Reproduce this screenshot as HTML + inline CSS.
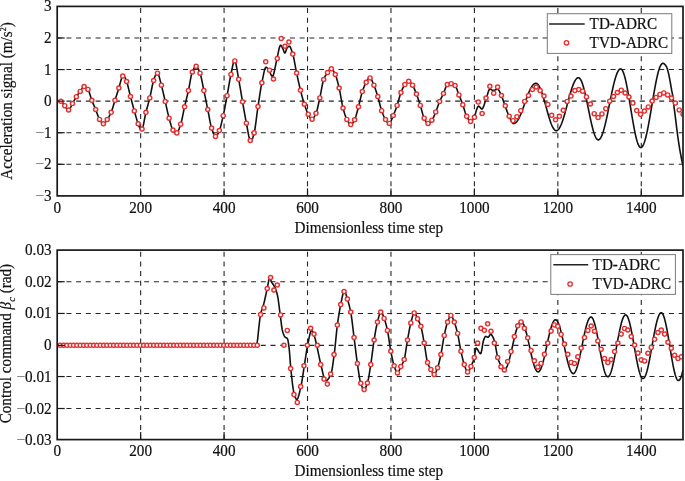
<!DOCTYPE html>
<html><head><meta charset="utf-8"><style>
html,body{margin:0;padding:0;background:#fff;}
svg{display:block;will-change:transform;}
.g{stroke:#262626;stroke-width:1.1;stroke-dasharray:5 4.718;stroke-dashoffset:0.5;fill:none;}
.gv{stroke:#262626;stroke-width:1.1;stroke-dasharray:5 4.62;fill:none;}
.t{stroke:#1a1a1a;stroke-width:1.2;}
.box{fill:none;stroke:#1a1a1a;stroke-width:1.7;}
text{font-family:"Liberation Serif",serif;font-size:15.2px;fill:#111;stroke:#111;stroke-width:0.2px;}
</style></head><body>
<svg width="685" height="481" viewBox="0 0 685 481">
<rect width="685" height="481" fill="#fff"/>
<defs>
<clipPath id="c1"><rect x="57.2" y="6.4" width="625.8" height="189.5"/></clipPath>
<clipPath id="c2"><rect x="57.2" y="250.1" width="625.8" height="189.50000000000003"/></clipPath>
<clipPath id="c1m"><rect x="50" y="0" width="632.2" height="240"/></clipPath>
<clipPath id="c2m"><rect x="50" y="240" width="632.2" height="240"/></clipPath>
</defs>
<line x1="57.20" y1="37.98" x2="683.00" y2="37.98" class="g"/>
<line x1="57.20" y1="69.57" x2="683.00" y2="69.57" class="g"/>
<line x1="57.20" y1="101.15" x2="683.00" y2="101.15" class="g"/>
<line x1="57.20" y1="132.73" x2="683.00" y2="132.73" class="g"/>
<line x1="57.20" y1="164.32" x2="683.00" y2="164.32" class="g"/>
<line x1="140.64" y1="195.90" x2="140.64" y2="6.40" class="gv"/>
<line x1="224.08" y1="195.90" x2="224.08" y2="6.40" class="gv"/>
<line x1="307.52" y1="195.90" x2="307.52" y2="6.40" class="gv"/>
<line x1="390.96" y1="195.90" x2="390.96" y2="6.40" class="gv"/>
<line x1="474.40" y1="195.90" x2="474.40" y2="6.40" class="gv"/>
<line x1="557.84" y1="195.90" x2="557.84" y2="6.40" class="gv"/>
<line x1="641.28" y1="195.90" x2="641.28" y2="6.40" class="gv"/>
<line x1="57.20" y1="281.70" x2="683.00" y2="281.70" class="g"/>
<line x1="57.20" y1="313.45" x2="683.00" y2="313.45" class="g"/>
<line x1="57.20" y1="345.40" x2="683.00" y2="345.40" class="g"/>
<line x1="57.20" y1="376.55" x2="683.00" y2="376.55" class="g"/>
<line x1="57.20" y1="408.50" x2="683.00" y2="408.50" class="g"/>
<line x1="140.64" y1="439.60" x2="140.64" y2="250.10" class="gv"/>
<line x1="224.08" y1="439.60" x2="224.08" y2="250.10" class="gv"/>
<line x1="307.52" y1="439.60" x2="307.52" y2="250.10" class="gv"/>
<line x1="390.96" y1="439.60" x2="390.96" y2="250.10" class="gv"/>
<line x1="474.40" y1="439.60" x2="474.40" y2="250.10" class="gv"/>
<line x1="557.84" y1="439.60" x2="557.84" y2="250.10" class="gv"/>
<line x1="641.28" y1="439.60" x2="641.28" y2="250.10" class="gv"/>
<g clip-path="url(#c1)"><path d="M57.20,101.15 57.70,101.15 58.20,101.15 58.70,101.16 59.20,101.16 59.70,101.17 60.20,101.18 60.70,101.19 61.20,101.26 61.70,101.55 62.20,102.05 62.70,102.69 63.20,103.43 63.70,104.20 64.20,104.95 64.70,105.62 65.20,106.29 65.70,107.08 66.20,107.91 66.70,108.70 67.20,109.37 67.70,109.85 68.20,110.05 68.70,109.98 69.20,109.66 69.70,109.05 70.20,108.23 70.70,107.25 71.20,106.20 71.70,105.13 72.20,104.13 72.70,103.24 73.20,102.35 73.70,101.42 74.20,100.49 74.70,99.56 75.20,98.65 75.70,97.78 76.20,96.95 76.70,96.18 77.20,95.44 77.70,94.74 78.20,94.05 78.70,93.38 79.20,92.73 79.70,92.08 80.20,91.43 80.70,90.73 81.20,89.96 81.70,89.16 82.20,88.40 82.70,87.71 83.20,87.14 83.70,86.75 84.20,86.58 84.70,86.54 85.20,86.66 85.70,86.95 86.20,87.35 86.70,87.86 87.20,88.45 87.70,89.08 88.20,89.77 88.70,90.80 89.20,92.11 89.70,93.64 90.20,95.27 90.70,96.94 91.20,98.54 91.70,99.99 92.20,101.27 92.70,102.50 93.20,103.68 93.70,104.84 94.20,106.00 94.70,107.16 95.20,108.33 95.70,109.55 96.20,110.85 96.70,112.25 97.20,113.70 97.70,115.13 98.20,116.49 98.70,117.73 99.20,118.80 99.70,119.65 100.20,120.45 100.70,121.24 101.20,121.98 101.70,122.64 102.20,123.19 102.70,123.58 103.20,123.78 103.70,123.76 104.20,123.52 104.70,123.10 105.20,122.54 105.70,121.89 106.20,121.17 106.70,120.42 107.20,119.70 107.70,118.99 108.20,118.20 108.70,117.35 109.20,116.43 109.70,115.45 110.20,114.41 110.70,113.31 111.20,112.15 111.70,110.87 112.20,109.43 112.70,107.89 113.20,106.26 113.70,104.59 114.20,102.91 114.70,101.27 115.20,99.68 115.70,98.09 116.20,96.50 116.70,94.90 117.20,93.30 117.70,91.70 118.20,90.10 118.70,88.53 119.20,86.90 119.70,85.07 120.20,83.13 120.70,81.21 121.20,79.43 121.70,77.91 122.20,76.77 122.70,76.12 123.20,75.85 123.70,75.85 124.20,76.27 124.70,77.04 125.20,78.06 125.70,79.25 126.20,80.51 126.70,81.76 127.20,83.23 127.70,84.99 128.20,86.97 128.70,89.08 129.20,91.25 129.70,93.41 130.20,95.48 130.70,97.41 131.20,99.31 131.70,101.22 132.20,103.11 132.70,104.98 133.20,106.84 133.70,108.67 134.20,110.46 134.70,112.23 135.20,114.03 135.70,115.84 136.20,117.61 136.70,119.33 137.20,120.96 137.70,122.46 138.20,123.83 138.70,125.19 139.20,126.61 139.70,127.94 140.20,129.02 140.70,129.70 141.20,129.82 141.70,129.48 142.20,128.90 142.70,127.71 143.20,125.87 143.70,123.57 144.20,120.97 144.70,118.26 145.20,115.62 145.70,113.22 146.20,111.19 146.70,109.29 147.20,107.46 147.70,105.67 148.20,103.88 148.70,102.07 149.20,100.20 149.70,98.24 150.20,96.10 150.70,93.74 151.20,91.25 151.70,88.72 152.20,86.27 152.70,83.99 153.20,81.99 153.70,80.35 154.20,78.84 154.70,77.33 155.20,75.92 155.70,74.69 156.20,73.74 156.70,73.18 157.20,73.08 157.70,73.33 158.20,74.06 158.70,75.26 159.20,76.82 159.70,78.64 160.20,80.61 160.70,82.62 161.20,84.55 161.70,86.39 162.20,88.35 162.70,90.43 163.20,92.59 163.70,94.80 164.20,97.03 164.70,99.25 165.20,101.42 165.70,103.59 166.20,105.83 166.70,108.09 167.20,110.35 167.70,112.56 168.20,114.68 168.70,116.69 169.20,118.54 169.70,120.36 170.20,122.18 170.70,123.96 171.20,125.64 171.70,127.18 172.20,128.52 172.70,129.62 173.20,130.47 173.70,131.26 174.20,131.99 174.70,132.60 175.20,133.05 175.70,133.27 176.20,133.21 176.70,132.98 177.20,132.60 177.70,131.94 178.20,131.02 178.70,129.89 179.20,128.59 179.70,127.18 180.20,125.70 180.70,124.20 181.20,122.51 181.70,120.49 182.20,118.23 182.70,115.81 183.20,113.32 183.70,110.83 184.20,108.44 184.70,106.21 185.20,104.09 185.70,102.02 186.20,99.98 186.70,97.93 187.20,95.88 187.70,93.78 188.20,91.61 188.70,89.33 189.20,86.75 189.70,83.98 190.20,81.16 190.70,78.43 191.20,75.94 191.70,73.83 192.20,72.23 192.70,71.05 193.20,69.93 193.70,68.88 194.20,67.95 194.70,67.19 195.20,66.64 195.70,66.33 196.20,66.31 196.70,66.55 197.20,67.08 197.70,67.84 198.20,68.80 198.70,69.90 199.20,71.11 199.70,72.38 200.20,73.68 200.70,75.34 201.20,77.35 201.70,79.63 202.20,82.10 202.70,84.66 203.20,87.23 203.70,89.71 204.20,92.08 204.70,94.48 205.20,96.92 205.70,99.38 206.20,101.86 206.70,104.34 207.20,106.81 207.70,109.25 208.20,111.76 208.70,114.41 209.20,117.12 209.70,119.80 210.20,122.35 210.70,124.68 211.20,126.71 211.70,128.35 212.20,129.85 212.70,131.31 213.20,132.69 213.70,133.93 214.20,134.98 214.70,135.78 215.20,136.28 215.70,136.44 216.20,136.34 216.70,135.90 217.20,135.18 217.70,134.26 218.20,133.18 218.70,132.02 219.20,130.84 219.70,129.60 220.20,128.09 220.70,126.35 221.20,124.41 221.70,122.34 222.20,120.17 222.70,117.96 223.20,115.74 223.70,113.46 224.20,111.03 224.70,108.48 225.20,105.84 225.70,103.14 226.20,100.42 226.70,97.71 227.20,95.02 227.70,92.24 228.20,89.35 228.70,86.43 229.20,83.52 229.70,80.69 230.20,78.00 230.70,75.50 231.20,73.18 231.70,70.69 232.20,68.13 232.70,65.70 233.20,63.57 233.70,61.94 234.20,60.98 234.70,60.85 235.20,61.40 235.70,62.83 236.20,64.96 236.70,67.60 237.20,70.57 237.70,73.66 238.20,76.69 238.70,79.47 239.20,82.18 239.70,85.02 240.20,87.95 240.70,90.94 241.20,93.96 241.70,96.95 242.20,99.90 242.70,102.76 243.20,105.62 243.70,108.49 244.20,111.35 244.70,114.18 245.20,116.95 245.70,119.63 246.20,122.22 246.70,124.76 247.20,127.51 247.70,130.34 248.20,133.11 248.70,135.65 249.20,137.83 249.70,139.47 250.20,140.44 250.70,140.87 251.20,140.93 251.70,140.40 252.20,139.38 252.70,137.98 253.20,136.30 253.70,134.48 254.20,132.61 254.70,130.26 255.20,127.25 255.70,123.77 256.20,119.99 256.70,116.07 257.20,112.20 257.70,108.55 258.20,105.23 258.70,101.92 259.20,98.59 259.70,95.28 260.20,92.06 260.70,89.00 261.20,86.13 261.70,83.54 262.20,81.13 262.70,78.61 263.20,76.06 263.70,73.61 264.20,71.40 264.70,69.53 265.20,68.13 265.70,67.34 266.20,67.23 266.70,67.49 267.20,67.98 267.70,68.61 268.20,69.28 268.70,69.93 269.20,70.75 269.70,71.78 270.20,72.91 270.70,74.03 271.20,75.05 271.70,75.84 272.20,76.32 272.70,76.33 273.20,75.55 273.70,74.07 274.20,72.06 274.70,69.69 275.20,67.13 275.70,64.57 276.20,62.18 276.70,60.11 277.20,57.90 277.70,55.44 278.20,52.90 278.70,50.45 279.20,48.28 279.70,46.57 280.20,45.49 280.70,45.21 281.20,45.61 281.70,46.41 282.20,47.41 282.70,48.42 283.20,49.50 283.70,50.90 284.20,52.21 284.70,53.02 285.20,52.86 285.70,51.67 286.20,50.02 286.70,48.55 287.20,47.76 287.70,47.20 288.20,46.71 288.70,46.37 289.20,46.20 289.70,46.36 290.20,46.98 290.70,47.98 291.20,49.26 291.70,50.73 292.20,52.30 292.70,53.88 293.20,55.60 293.70,57.74 294.20,60.18 294.70,62.82 295.20,65.57 295.70,68.32 296.20,70.97 296.70,73.41 297.20,75.74 297.70,78.07 298.20,80.37 298.70,82.63 299.20,84.85 299.70,87.01 300.20,89.09 300.70,91.10 301.20,93.06 301.70,94.99 302.20,96.87 302.70,98.69 303.20,100.44 303.70,102.12 304.20,103.70 304.70,105.21 305.20,106.70 305.70,108.15 306.20,109.54 306.70,110.86 307.20,112.08 307.70,113.18 308.20,114.15 308.70,115.06 309.20,115.99 309.70,116.89 310.20,117.71 310.70,118.40 311.20,118.90 311.70,119.18 312.20,119.18 312.70,118.95 313.20,118.47 313.70,117.80 314.20,116.97 314.70,116.01 315.20,114.96 315.70,113.87 316.20,112.72 316.70,111.24 317.20,109.46 317.70,107.44 318.20,105.26 318.70,102.98 319.20,100.68 319.70,98.43 320.20,96.16 320.70,93.60 321.20,90.89 321.70,88.15 322.20,85.51 322.70,83.09 323.20,81.03 323.70,79.46 324.20,78.24 324.70,77.16 325.20,76.19 325.70,75.32 326.20,74.52 326.70,73.78 327.20,73.08 327.70,72.39 328.20,71.66 328.70,70.92 329.20,70.20 329.70,69.58 330.20,69.10 330.70,68.81 331.20,68.76 331.70,68.89 332.20,69.24 332.70,69.79 333.20,70.50 333.70,71.35 334.20,72.29 334.70,73.30 335.20,74.33 335.70,75.47 336.20,76.84 336.70,78.43 337.20,80.19 337.70,82.09 338.20,84.09 338.70,86.15 339.20,88.24 339.70,90.57 340.20,93.20 340.70,96.03 341.20,98.91 341.70,101.75 342.20,104.40 342.70,106.75 343.20,108.71 343.70,110.53 344.20,112.26 344.70,113.88 345.20,115.39 345.70,116.77 346.20,118.00 346.70,119.07 347.20,120.01 347.70,120.95 348.20,121.86 348.70,122.71 349.20,123.44 349.70,124.03 350.20,124.43 350.70,124.60 351.20,124.53 351.70,124.23 352.20,123.74 352.70,123.08 353.20,122.31 353.70,121.45 354.20,120.54 354.70,119.61 355.20,118.46 355.70,117.02 356.20,115.36 356.70,113.55 357.20,111.64 357.70,109.69 358.20,107.78 358.70,105.93 359.20,103.96 359.70,101.87 360.20,99.74 360.70,97.62 361.20,95.58 361.70,93.69 362.20,92.00 362.70,90.51 363.20,89.10 363.70,87.75 364.20,86.48 364.70,85.30 365.20,84.20 365.70,83.19 366.20,82.29 366.70,81.41 367.20,80.50 367.70,79.64 368.20,78.88 368.70,78.28 369.20,77.90 369.70,77.82 370.20,77.95 370.70,78.36 371.20,79.05 371.70,79.96 372.20,81.04 372.70,82.23 373.20,83.46 373.70,84.68 374.20,85.85 374.70,87.11 375.20,88.48 375.70,89.92 376.20,91.43 376.70,92.99 377.20,94.59 377.70,96.21 378.20,97.91 378.70,99.76 379.20,101.72 379.70,103.72 380.20,105.69 380.70,107.58 381.20,109.31 381.70,110.83 382.20,112.22 382.70,113.55 383.20,114.82 383.70,116.01 384.20,117.12 384.70,118.14 385.20,119.07 385.70,119.90 386.20,120.74 386.70,121.59 387.20,122.36 387.70,122.99 388.20,123.42 388.70,123.58 389.20,123.47 389.70,123.20 390.20,122.60 390.70,121.72 391.20,120.64 391.70,119.41 392.20,118.12 392.70,116.83 393.20,115.61 393.70,114.44 394.20,113.24 394.70,111.99 395.20,110.70 395.70,109.37 396.20,108.00 396.70,106.59 397.20,105.14 397.70,103.55 398.20,101.82 398.70,100.01 399.20,98.19 399.70,96.41 400.20,94.74 400.70,93.24 401.20,91.93 401.70,90.70 402.20,89.50 402.70,88.37 403.20,87.32 403.70,86.36 404.20,85.51 404.70,84.78 405.20,84.15 405.70,83.52 406.20,82.92 406.70,82.37 407.20,81.90 407.70,81.55 408.20,81.34 408.70,81.30 409.20,81.42 409.70,81.71 410.20,82.13 410.70,82.67 411.20,83.29 411.70,83.97 412.20,84.68 412.70,85.39 413.20,86.23 413.70,87.23 414.20,88.36 414.70,89.58 415.20,90.86 415.70,92.18 416.20,93.49 416.70,94.79 417.20,96.15 417.70,97.55 418.20,99.00 418.70,100.49 419.20,102.01 419.70,103.54 420.20,105.09 420.70,106.72 421.20,108.50 421.70,110.38 422.20,112.26 422.70,114.07 423.20,115.73 423.70,117.16 424.20,118.27 424.70,119.22 425.20,120.15 425.70,121.01 426.20,121.78 426.70,122.44 427.20,122.95 427.70,123.29 428.20,123.43 428.70,123.44 429.20,123.25 429.70,122.88 430.20,122.38 430.70,121.78 431.20,121.13 431.70,120.45 432.20,119.76 432.70,118.92 433.20,117.94 433.70,116.85 434.20,115.69 434.70,114.48 435.20,113.25 435.70,112.04 436.20,110.80 436.70,109.46 437.20,108.07 437.70,106.64 438.20,105.22 438.70,103.84 439.20,102.53 439.70,101.32 440.20,100.20 440.70,99.14 441.20,98.12 441.70,97.13 442.20,96.15 442.70,95.15 443.20,94.11 443.70,93.01 444.20,91.72 444.70,90.30 445.20,88.86 445.70,87.48 446.20,86.26 446.70,85.30 447.20,84.70 447.70,84.43 448.20,84.20 448.70,84.00 449.20,83.85 449.70,83.73 450.20,83.67 450.70,83.66 451.20,83.70 451.70,83.77 452.20,83.91 452.70,84.09 453.20,84.33 453.70,84.61 454.20,84.94 454.70,85.30 455.20,85.71 455.70,86.39 456.20,87.38 456.70,88.60 457.20,89.98 457.70,91.43 458.20,92.89 458.70,94.28 459.20,95.54 459.70,96.78 460.20,98.02 460.70,99.27 461.20,100.54 461.70,101.84 462.20,103.15 462.70,104.50 463.20,105.94 463.70,107.52 464.20,109.18 464.70,110.86 465.20,112.49 465.70,113.99 466.20,115.30 466.70,116.35 467.20,117.27 467.70,118.18 468.20,119.05 468.70,119.83 469.20,120.49 469.70,121.00 470.20,121.31 470.70,121.41 471.20,121.33 471.70,121.05 472.20,120.61 472.70,120.03 473.20,119.32 473.70,118.53 474.20,117.66 474.70,116.57 475.20,114.72 475.70,112.60 476.20,110.78 476.70,109.42 477.20,108.08 477.70,106.94 478.20,106.23 478.70,106.13 479.20,106.42 479.70,106.93 480.20,107.55 480.70,108.17 481.20,108.68 481.70,108.97 482.20,108.90 482.70,108.34 483.20,107.38 483.70,106.11 484.20,104.65 484.70,103.10 485.20,101.55 485.70,100.12 486.20,98.79 486.70,97.22 487.20,95.49 487.70,93.74 488.20,92.08 488.70,90.66 489.20,89.61 489.70,89.05 490.20,89.04 490.70,89.23 491.20,89.53 491.70,89.87 492.20,90.17 492.70,90.36 493.20,90.39 493.70,90.33 494.20,90.21 494.70,90.06 495.20,89.89 495.70,89.71 496.20,89.54 496.70,89.41 497.20,89.32 497.70,89.31 498.20,89.55 498.70,90.11 499.20,90.90 499.70,91.86 500.20,92.94 500.70,94.06 501.20,95.17 501.70,96.26 502.20,97.51 502.70,98.90 503.20,100.38 503.70,101.90 504.20,103.41 504.70,104.87 505.20,106.24 505.70,107.61 506.20,109.00 506.70,110.37 507.20,111.72 507.70,113.01 508.20,114.24 508.70,115.37 509.20,116.41 509.70,117.49 510.20,118.61 510.70,119.71 511.20,120.76 511.70,121.71 512.20,122.52 512.70,123.13 513.20,123.50 513.70,123.60 514.20,123.53 514.70,123.36 515.20,123.09 515.70,122.73 516.20,122.26 516.70,121.71 517.20,121.06 517.70,120.33 518.20,119.52 518.70,118.62 519.20,117.65 519.70,116.61 520.20,115.50 520.70,114.33 521.20,113.11 521.70,111.84 522.20,110.53 522.70,109.19 523.20,107.82 523.70,106.42 524.20,105.01 524.70,103.59 525.20,102.17 525.70,100.76 526.20,99.36 526.70,97.98 527.20,96.63 527.70,95.31 528.20,94.04 528.70,92.81 529.20,91.63 529.70,90.51 530.20,89.46 530.70,88.47 531.20,87.56 531.70,86.73 532.20,85.98 532.70,85.31 533.20,84.74 533.70,84.26 534.20,83.88 534.70,83.59 535.20,83.40 535.70,83.31 536.20,83.33 536.70,83.48 537.20,83.77 537.70,84.20 538.20,84.77 538.70,85.47 539.20,86.30 539.70,87.24 540.20,88.31 540.70,89.49 541.20,90.77 541.70,92.14 542.20,93.61 542.70,95.15 543.20,96.76 543.70,98.44 544.20,100.16 544.70,101.93 545.20,103.73 545.70,105.54 546.20,107.37 546.70,109.19 547.20,111.00 547.70,112.78 548.20,114.53 548.70,116.24 549.20,117.89 549.70,119.48 550.20,120.99 550.70,122.42 551.20,123.76 551.70,125.00 552.20,126.13 552.70,127.15 553.20,128.05 553.70,128.83 554.20,129.47 554.70,129.99 555.20,130.36 555.70,130.60 556.20,130.70 556.70,130.65 557.20,130.48 557.70,130.18 558.20,129.74 558.70,129.17 559.20,128.48 559.70,127.66 560.20,126.73 560.70,125.68 561.20,124.53 561.70,123.27 562.20,121.91 562.70,120.47 563.20,118.94 563.70,117.34 564.20,115.67 564.70,113.95 565.20,112.17 565.70,110.36 566.20,108.51 566.70,106.64 567.20,104.76 567.70,102.88 568.20,101.01 568.70,99.15 569.20,97.31 569.70,95.51 570.20,93.75 570.70,92.05 571.20,90.41 571.70,88.84 572.20,87.34 572.70,85.93 573.20,84.62 573.70,83.40 574.20,82.28 574.70,81.28 575.20,80.39 575.70,79.63 576.20,78.98 576.70,78.47 577.20,78.08 577.70,77.83 578.20,77.71 578.70,77.74 579.20,77.95 579.70,78.35 580.20,78.95 580.70,79.73 581.20,80.69 581.70,81.83 582.20,83.13 582.70,84.59 583.20,86.21 583.70,87.97 584.20,89.85 584.70,91.85 585.20,93.96 585.70,96.17 586.20,98.45 586.70,100.79 587.20,103.18 587.70,105.61 588.20,108.06 588.70,110.52 589.20,112.96 589.70,115.38 590.20,117.75 590.70,120.08 591.20,122.33 591.70,124.49 592.20,126.56 592.70,128.52 593.20,130.35 593.70,132.05 594.20,133.61 594.70,135.01 595.20,136.25 595.70,137.32 596.20,138.21 596.70,138.91 597.20,139.43 597.70,139.76 598.20,139.89 598.70,139.84 599.20,139.61 599.70,139.21 600.20,138.63 600.70,137.89 601.20,136.98 601.70,135.90 602.20,134.67 602.70,133.30 603.20,131.77 603.70,130.11 604.20,128.33 604.70,126.42 605.20,124.41 605.70,122.29 606.20,120.09 606.70,117.81 607.20,115.46 607.70,113.06 608.20,110.62 608.70,108.14 609.20,105.65 609.70,103.15 610.20,100.66 610.70,98.18 611.20,95.74 611.70,93.33 612.20,90.99 612.70,88.71 613.20,86.51 613.70,84.39 614.20,82.38 614.70,80.47 615.20,78.69 615.70,77.03 616.20,75.50 616.70,74.12 617.20,72.89 617.70,71.82 618.20,70.91 618.70,70.16 619.20,69.59 619.70,69.18 620.20,68.95 620.70,68.91 621.20,69.06 621.70,69.47 622.20,70.11 622.70,70.98 623.20,72.07 623.70,73.38 624.20,74.91 624.70,76.63 625.20,78.55 625.70,80.64 626.20,82.90 626.70,85.32 627.20,87.87 627.70,90.55 628.20,93.33 628.70,96.21 629.20,99.15 629.70,102.15 630.20,105.19 630.70,108.25 631.20,111.31 631.70,114.34 632.20,117.35 632.70,120.29 633.20,123.17 633.70,125.95 634.20,128.63 634.70,131.18 635.20,133.60 635.70,135.86 636.20,137.95 636.70,139.87 637.20,141.59 637.70,143.11 638.20,144.43 638.70,145.52 639.20,146.39 639.70,147.02 640.20,147.42 640.70,147.59 641.20,147.53 641.70,147.25 642.20,146.77 642.70,146.07 643.20,145.17 643.70,144.07 644.20,142.77 644.70,141.29 645.20,139.62 645.70,137.78 646.20,135.78 646.70,133.62 647.20,131.33 647.70,128.90 648.20,126.35 648.70,123.70 649.20,120.96 649.70,118.13 650.20,115.25 650.70,112.31 651.20,109.34 651.70,106.35 652.20,103.35 652.70,100.37 653.20,97.41 653.70,94.49 654.20,91.63 654.70,88.84 655.20,86.13 655.70,83.52 656.20,81.02 656.70,78.64 657.20,76.40 657.70,74.30 658.20,72.36 658.70,70.59 659.20,69.00 659.70,67.59 660.20,66.37 660.70,65.34 661.20,64.52 661.70,63.91 662.20,63.50 662.70,63.32 663.20,63.33 663.70,63.52 664.20,63.86 664.70,64.31 665.20,64.87 665.70,65.51 666.20,66.20 666.70,67.17 667.20,68.58 667.70,70.28 668.20,72.12 668.70,74.16 669.20,76.58 669.70,79.21 670.20,81.88 670.70,84.74 671.20,87.66 671.70,90.43 672.20,92.82 672.70,95.37 673.20,98.95 673.70,103.79 674.20,108.32 674.70,112.14 675.20,115.84 675.70,119.86 676.20,124.12 676.70,128.19 677.20,132.04 677.70,135.76 678.20,139.31 678.70,142.70 679.20,145.94 679.70,149.03 680.20,151.94 680.70,154.66 681.20,157.27 681.70,159.84 682.20,162.34 682.70,164.68 683.00,166.00" fill="none" stroke="#111" stroke-width="1.6" stroke-linejoin="round"/></g>
<g clip-path="url(#c1m)" fill="#fff" stroke="#e5302f" stroke-width="1.45"><circle cx="60.90" cy="101.20" r="2.05"/><circle cx="64.76" cy="105.70" r="2.05"/><circle cx="68.63" cy="110.00" r="2.05"/><circle cx="72.49" cy="103.60" r="2.05"/><circle cx="76.36" cy="96.70" r="2.05"/><circle cx="80.22" cy="91.40" r="2.05"/><circle cx="84.09" cy="86.60" r="2.05"/><circle cx="87.95" cy="89.40" r="2.05"/><circle cx="91.82" cy="100.30" r="2.05"/><circle cx="95.68" cy="109.50" r="2.05"/><circle cx="99.55" cy="119.40" r="2.05"/><circle cx="103.41" cy="123.80" r="2.05"/><circle cx="107.27" cy="119.60" r="2.05"/><circle cx="111.14" cy="112.30" r="2.05"/><circle cx="115.00" cy="100.30" r="2.05"/><circle cx="118.87" cy="88.00" r="2.05"/><circle cx="122.73" cy="76.10" r="2.05"/><circle cx="126.60" cy="81.50" r="2.05"/><circle cx="130.46" cy="96.50" r="2.05"/><circle cx="134.33" cy="110.90" r="2.05"/><circle cx="138.19" cy="123.80" r="2.05"/><circle cx="142.05" cy="129.10" r="2.05"/><circle cx="145.92" cy="112.30" r="2.05"/><circle cx="149.78" cy="97.90" r="2.05"/><circle cx="153.65" cy="80.50" r="2.05"/><circle cx="157.51" cy="73.20" r="2.05"/><circle cx="161.38" cy="85.20" r="2.05"/><circle cx="165.24" cy="101.60" r="2.05"/><circle cx="169.11" cy="118.20" r="2.05"/><circle cx="172.97" cy="130.10" r="2.05"/><circle cx="176.84" cy="132.90" r="2.05"/><circle cx="180.70" cy="124.20" r="2.05"/><circle cx="184.56" cy="106.80" r="2.05"/><circle cx="188.43" cy="90.60" r="2.05"/><circle cx="192.29" cy="72.00" r="2.05"/><circle cx="196.16" cy="66.30" r="2.05"/><circle cx="200.02" cy="73.20" r="2.05"/><circle cx="203.89" cy="90.60" r="2.05"/><circle cx="207.75" cy="109.50" r="2.05"/><circle cx="211.62" cy="128.10" r="2.05"/><circle cx="215.48" cy="136.40" r="2.05"/><circle cx="219.34" cy="130.50" r="2.05"/><circle cx="223.21" cy="115.70" r="2.05"/><circle cx="227.07" cy="95.70" r="2.05"/><circle cx="230.94" cy="74.40" r="2.05"/><circle cx="234.80" cy="60.90" r="2.05"/><circle cx="238.67" cy="79.30" r="2.05"/><circle cx="242.53" cy="101.80" r="2.05"/><circle cx="246.40" cy="123.20" r="2.05"/><circle cx="250.26" cy="140.50" r="2.05"/><circle cx="254.12" cy="132.90" r="2.05"/><circle cx="257.99" cy="106.60" r="2.05"/><circle cx="261.85" cy="82.80" r="2.05"/><circle cx="265.72" cy="61.80" r="2.05"/><circle cx="269.58" cy="70.20" r="2.05"/><circle cx="273.45" cy="79.00" r="2.05"/><circle cx="277.31" cy="58.50" r="2.05"/><circle cx="281.18" cy="38.50" r="2.05"/><circle cx="285.04" cy="46.20" r="2.05"/><circle cx="288.91" cy="42.10" r="2.05"/><circle cx="292.77" cy="54.10" r="2.05"/><circle cx="296.63" cy="73.10" r="2.05"/><circle cx="300.50" cy="90.30" r="2.05"/><circle cx="304.36" cy="104.20" r="2.05"/><circle cx="308.23" cy="114.20" r="2.05"/><circle cx="312.09" cy="119.20" r="2.05"/><circle cx="315.96" cy="113.30" r="2.05"/><circle cx="319.82" cy="97.90" r="2.05"/><circle cx="323.69" cy="79.50" r="2.05"/><circle cx="327.55" cy="72.60" r="2.05"/><circle cx="331.41" cy="68.80" r="2.05"/><circle cx="335.28" cy="74.50" r="2.05"/><circle cx="339.14" cy="88.00" r="2.05"/><circle cx="343.01" cy="108.00" r="2.05"/><circle cx="346.87" cy="119.40" r="2.05"/><circle cx="350.74" cy="124.60" r="2.05"/><circle cx="354.60" cy="119.80" r="2.05"/><circle cx="358.47" cy="106.80" r="2.05"/><circle cx="362.33" cy="91.60" r="2.05"/><circle cx="366.20" cy="82.30" r="2.05"/><circle cx="370.06" cy="77.90" r="2.05"/><circle cx="373.92" cy="85.20" r="2.05"/><circle cx="377.79" cy="96.50" r="2.05"/><circle cx="381.65" cy="110.70" r="2.05"/><circle cx="385.52" cy="119.60" r="2.05"/><circle cx="389.38" cy="123.40" r="2.05"/><circle cx="393.25" cy="115.50" r="2.05"/><circle cx="397.11" cy="105.40" r="2.05"/><circle cx="400.98" cy="92.50" r="2.05"/><circle cx="404.84" cy="84.60" r="2.05"/><circle cx="408.70" cy="81.30" r="2.05"/><circle cx="412.57" cy="85.20" r="2.05"/><circle cx="416.43" cy="94.10" r="2.05"/><circle cx="420.30" cy="105.40" r="2.05"/><circle cx="424.16" cy="118.20" r="2.05"/><circle cx="428.03" cy="123.40" r="2.05"/><circle cx="431.89" cy="120.20" r="2.05"/><circle cx="435.76" cy="111.90" r="2.05"/><circle cx="439.62" cy="101.50" r="2.05"/><circle cx="443.49" cy="93.50" r="2.05"/><circle cx="447.35" cy="84.60" r="2.05"/><circle cx="451.21" cy="83.70" r="2.05"/><circle cx="455.08" cy="85.60" r="2.05"/><circle cx="458.94" cy="94.90" r="2.05"/><circle cx="462.81" cy="104.80" r="2.05"/><circle cx="466.67" cy="116.30" r="2.05"/><circle cx="470.54" cy="121.40" r="2.05"/><circle cx="474.40" cy="117.30" r="2.05"/><circle cx="478.27" cy="102.10" r="2.05"/><circle cx="482.13" cy="113.50" r="2.05"/><circle cx="486.00" cy="98.10" r="2.05"/><circle cx="489.86" cy="86.30" r="2.05"/><circle cx="493.72" cy="93.20" r="2.05"/><circle cx="497.59" cy="87.10" r="2.05"/><circle cx="501.45" cy="95.50" r="2.05"/><circle cx="505.32" cy="105.80" r="2.05"/><circle cx="509.18" cy="116.20" r="2.05"/><circle cx="513.05" cy="120.70" r="2.05"/><circle cx="516.91" cy="116.70" r="2.05"/><circle cx="520.78" cy="110.70" r="2.05"/><circle cx="524.64" cy="101.40" r="2.05"/><circle cx="528.50" cy="95.50" r="2.05"/><circle cx="532.37" cy="89.60" r="2.05"/><circle cx="536.23" cy="87.00" r="2.05"/><circle cx="540.10" cy="90.60" r="2.05"/><circle cx="543.96" cy="96.10" r="2.05"/><circle cx="547.83" cy="104.40" r="2.05"/><circle cx="551.69" cy="115.30" r="2.05"/><circle cx="555.56" cy="119.80" r="2.05"/><circle cx="559.42" cy="116.30" r="2.05"/><circle cx="563.28" cy="110.30" r="2.05"/><circle cx="567.15" cy="101.40" r="2.05"/><circle cx="571.01" cy="96.10" r="2.05"/><circle cx="574.88" cy="90.60" r="2.05"/><circle cx="578.74" cy="89.60" r="2.05"/><circle cx="582.61" cy="91.20" r="2.05"/><circle cx="586.47" cy="96.90" r="2.05"/><circle cx="590.34" cy="104.00" r="2.05"/><circle cx="594.20" cy="113.70" r="2.05"/><circle cx="598.07" cy="117.60" r="2.05"/><circle cx="601.93" cy="113.90" r="2.05"/><circle cx="605.79" cy="108.70" r="2.05"/><circle cx="609.66" cy="101.20" r="2.05"/><circle cx="613.52" cy="96.50" r="2.05"/><circle cx="617.39" cy="92.50" r="2.05"/><circle cx="621.25" cy="90.20" r="2.05"/><circle cx="625.12" cy="93.00" r="2.05"/><circle cx="628.98" cy="97.00" r="2.05"/><circle cx="632.85" cy="103.10" r="2.05"/><circle cx="636.71" cy="110.60" r="2.05"/><circle cx="640.57" cy="114.30" r="2.05"/><circle cx="644.44" cy="111.10" r="2.05"/><circle cx="648.30" cy="106.90" r="2.05"/><circle cx="652.17" cy="101.10" r="2.05"/><circle cx="656.03" cy="97.40" r="2.05"/><circle cx="659.90" cy="94.40" r="2.05"/><circle cx="663.76" cy="92.90" r="2.05"/><circle cx="667.63" cy="94.90" r="2.05"/><circle cx="671.49" cy="98.10" r="2.05"/><circle cx="675.36" cy="103.10" r="2.05"/><circle cx="679.22" cy="109.90" r="2.05"/><circle cx="683.08" cy="114.30" r="2.05"/></g>
<g clip-path="url(#c2)"><path d="M57.20,345.30 57.70,345.30 58.20,345.30 58.70,345.30 59.20,345.30 59.70,345.30 60.20,345.30 60.70,345.30 61.20,345.30 61.70,345.30 62.20,345.30 62.70,345.30 63.20,345.30 63.70,345.30 64.20,345.30 64.70,345.30 65.20,345.30 65.70,345.30 66.20,345.30 66.70,345.30 67.20,345.30 67.70,345.30 68.20,345.30 68.70,345.30 69.20,345.30 69.70,345.30 70.20,345.30 70.70,345.30 71.20,345.30 71.70,345.30 72.20,345.30 72.70,345.30 73.20,345.30 73.70,345.30 74.20,345.30 74.70,345.30 75.20,345.30 75.70,345.30 76.20,345.30 76.70,345.30 77.20,345.30 77.70,345.30 78.20,345.30 78.70,345.30 79.20,345.30 79.70,345.30 80.20,345.30 80.70,345.30 81.20,345.30 81.70,345.30 82.20,345.30 82.70,345.30 83.20,345.30 83.70,345.30 84.20,345.30 84.70,345.30 85.20,345.30 85.70,345.30 86.20,345.30 86.70,345.30 87.20,345.30 87.70,345.30 88.20,345.30 88.70,345.30 89.20,345.30 89.70,345.30 90.20,345.30 90.70,345.30 91.20,345.30 91.70,345.30 92.20,345.30 92.70,345.30 93.20,345.30 93.70,345.30 94.20,345.30 94.70,345.30 95.20,345.30 95.70,345.30 96.20,345.30 96.70,345.30 97.20,345.30 97.70,345.30 98.20,345.30 98.70,345.30 99.20,345.30 99.70,345.30 100.20,345.30 100.70,345.30 101.20,345.30 101.70,345.30 102.20,345.30 102.70,345.30 103.20,345.30 103.70,345.30 104.20,345.30 104.70,345.30 105.20,345.30 105.70,345.30 106.20,345.30 106.70,345.30 107.20,345.30 107.70,345.30 108.20,345.30 108.70,345.30 109.20,345.30 109.70,345.30 110.20,345.30 110.70,345.30 111.20,345.30 111.70,345.30 112.20,345.30 112.70,345.30 113.20,345.30 113.70,345.30 114.20,345.30 114.70,345.30 115.20,345.30 115.70,345.30 116.20,345.30 116.70,345.30 117.20,345.30 117.70,345.30 118.20,345.30 118.70,345.30 119.20,345.30 119.70,345.30 120.20,345.30 120.70,345.30 121.20,345.30 121.70,345.30 122.20,345.30 122.70,345.30 123.20,345.30 123.70,345.30 124.20,345.30 124.70,345.30 125.20,345.30 125.70,345.30 126.20,345.30 126.70,345.30 127.20,345.30 127.70,345.30 128.20,345.30 128.70,345.30 129.20,345.30 129.70,345.30 130.20,345.30 130.70,345.30 131.20,345.30 131.70,345.30 132.20,345.30 132.70,345.30 133.20,345.30 133.70,345.30 134.20,345.30 134.70,345.30 135.20,345.30 135.70,345.30 136.20,345.30 136.70,345.30 137.20,345.30 137.70,345.30 138.20,345.30 138.70,345.30 139.20,345.30 139.70,345.30 140.20,345.30 140.70,345.30 141.20,345.30 141.70,345.30 142.20,345.30 142.70,345.30 143.20,345.30 143.70,345.30 144.20,345.30 144.70,345.30 145.20,345.30 145.70,345.30 146.20,345.30 146.70,345.30 147.20,345.30 147.70,345.30 148.20,345.30 148.70,345.30 149.20,345.30 149.70,345.30 150.20,345.30 150.70,345.30 151.20,345.30 151.70,345.30 152.20,345.30 152.70,345.30 153.20,345.30 153.70,345.30 154.20,345.30 154.70,345.30 155.20,345.30 155.70,345.30 156.20,345.30 156.70,345.30 157.20,345.30 157.70,345.30 158.20,345.30 158.70,345.30 159.20,345.30 159.70,345.30 160.20,345.30 160.70,345.30 161.20,345.30 161.70,345.30 162.20,345.30 162.70,345.30 163.20,345.30 163.70,345.30 164.20,345.30 164.70,345.30 165.20,345.30 165.70,345.30 166.20,345.30 166.70,345.30 167.20,345.30 167.70,345.30 168.20,345.30 168.70,345.30 169.20,345.30 169.70,345.30 170.20,345.30 170.70,345.30 171.20,345.30 171.70,345.30 172.20,345.30 172.70,345.30 173.20,345.30 173.70,345.30 174.20,345.30 174.70,345.30 175.20,345.30 175.70,345.30 176.20,345.30 176.70,345.30 177.20,345.30 177.70,345.30 178.20,345.30 178.70,345.30 179.20,345.30 179.70,345.30 180.20,345.30 180.70,345.30 181.20,345.30 181.70,345.30 182.20,345.30 182.70,345.30 183.20,345.30 183.70,345.30 184.20,345.30 184.70,345.30 185.20,345.30 185.70,345.30 186.20,345.30 186.70,345.30 187.20,345.30 187.70,345.30 188.20,345.30 188.70,345.30 189.20,345.30 189.70,345.30 190.20,345.30 190.70,345.30 191.20,345.30 191.70,345.30 192.20,345.30 192.70,345.30 193.20,345.30 193.70,345.30 194.20,345.30 194.70,345.30 195.20,345.30 195.70,345.30 196.20,345.30 196.70,345.30 197.20,345.30 197.70,345.30 198.20,345.30 198.70,345.30 199.20,345.30 199.70,345.30 200.20,345.30 200.70,345.30 201.20,345.30 201.70,345.30 202.20,345.30 202.70,345.30 203.20,345.30 203.70,345.30 204.20,345.30 204.70,345.30 205.20,345.30 205.70,345.30 206.20,345.30 206.70,345.30 207.20,345.30 207.70,345.30 208.20,345.30 208.70,345.30 209.20,345.30 209.70,345.30 210.20,345.30 210.70,345.30 211.20,345.30 211.70,345.30 212.20,345.30 212.70,345.30 213.20,345.30 213.70,345.30 214.20,345.30 214.70,345.30 215.20,345.30 215.70,345.30 216.20,345.30 216.70,345.30 217.20,345.30 217.70,345.30 218.20,345.30 218.70,345.30 219.20,345.30 219.70,345.30 220.20,345.30 220.70,345.30 221.20,345.30 221.70,345.30 222.20,345.30 222.70,345.30 223.20,345.30 223.70,345.30 224.20,345.30 224.70,345.30 225.20,345.30 225.70,345.30 226.20,345.30 226.70,345.30 227.20,345.30 227.70,345.30 228.20,345.30 228.70,345.30 229.20,345.30 229.70,345.30 230.20,345.30 230.70,345.30 231.20,345.30 231.70,345.30 232.20,345.30 232.70,345.30 233.20,345.30 233.70,345.30 234.20,345.30 234.70,345.30 235.20,345.30 235.70,345.30 236.20,345.30 236.70,345.30 237.20,345.30 237.70,345.30 238.20,345.30 238.70,345.30 239.20,345.30 239.70,345.30 240.20,345.30 240.70,345.30 241.20,345.30 241.70,345.30 242.20,345.30 242.70,345.30 243.20,345.30 243.70,345.30 244.20,345.30 244.70,345.30 245.20,345.30 245.70,345.30 246.20,345.30 246.70,345.30 247.20,345.30 247.70,345.30 248.20,345.30 248.70,345.30 249.20,345.30 249.70,345.30 250.20,345.30 250.70,345.30 251.20,345.30 251.70,345.30 252.20,345.30 252.70,345.30 253.20,345.30 253.70,345.30 254.20,345.30 254.70,345.30 255.20,345.30 255.70,345.30 256.20,345.17 256.70,343.94 257.20,341.94 257.70,338.85 258.20,333.94 258.70,328.88 259.20,324.50 259.70,320.11 260.20,316.32 260.70,313.68 261.20,311.73 261.70,310.13 262.20,308.72 262.70,307.36 263.20,305.88 263.70,304.12 264.20,302.13 264.70,300.00 265.20,297.77 265.70,295.49 266.20,293.19 266.70,290.93 267.20,288.67 267.70,285.95 268.20,283.08 268.70,280.54 269.20,278.79 269.70,278.32 270.20,278.90 270.70,280.00 271.20,281.25 271.70,282.27 272.20,283.08 272.70,283.82 273.20,284.53 273.70,285.26 274.20,286.07 274.70,286.98 275.20,288.05 275.70,289.29 276.20,290.71 276.70,292.36 277.20,294.24 277.70,296.45 278.20,299.43 278.70,303.01 279.20,306.90 279.70,310.79 280.20,314.48 280.70,318.51 281.20,322.69 281.70,326.55 282.20,329.67 282.70,331.70 283.20,333.31 283.70,334.69 284.20,335.81 284.70,336.65 285.20,337.18 285.70,337.48 286.20,337.69 286.70,337.92 287.20,338.29 287.70,339.19 288.20,341.57 288.70,344.97 289.20,348.83 289.70,354.51 290.20,361.38 290.70,367.60 291.20,372.39 291.70,377.06 292.20,381.52 292.70,385.61 293.20,389.20 293.70,392.14 294.20,394.28 294.70,395.78 295.20,397.16 295.70,398.30 296.20,399.12 296.70,399.49 297.20,399.30 297.70,398.56 298.20,397.34 298.70,395.74 299.20,393.86 299.70,391.79 300.20,389.62 300.70,387.45 301.20,385.24 301.70,382.61 302.20,379.61 302.70,376.37 303.20,373.02 303.70,369.66 304.20,366.42 304.70,363.27 305.20,359.96 305.70,356.61 306.20,353.31 306.70,350.18 307.20,347.32 307.70,344.83 308.20,342.36 308.70,339.82 309.20,337.35 309.70,335.07 310.20,333.10 310.70,331.59 311.20,330.65 311.70,330.41 312.20,330.78 312.70,331.60 313.20,332.76 313.70,334.17 314.20,335.71 314.70,337.28 315.20,338.91 315.70,340.96 316.20,343.21 316.70,345.44 317.20,347.68 317.70,350.02 318.20,352.40 318.70,354.80 319.20,357.18 319.70,359.49 320.20,361.72 320.70,363.81 321.20,365.81 321.70,367.96 322.20,370.21 322.70,372.46 323.20,374.62 323.70,376.60 324.20,378.30 324.70,379.63 325.20,380.49 325.70,380.80 326.20,380.72 326.70,380.50 327.20,380.13 327.70,379.64 328.20,379.03 328.70,378.31 329.20,377.49 329.70,376.59 330.20,375.60 330.70,374.54 331.20,373.27 331.70,371.25 332.20,368.56 332.70,365.38 333.20,361.86 333.70,358.18 334.20,354.50 334.70,350.46 335.20,345.77 335.70,340.73 336.20,335.63 336.70,330.76 337.20,326.41 337.70,322.70 338.20,319.20 338.70,315.89 339.20,312.77 339.70,309.85 340.20,307.14 340.70,304.65 341.20,302.18 341.70,299.64 342.20,297.19 342.70,295.00 343.20,293.22 343.70,292.01 344.20,291.51 344.70,291.48 345.20,292.15 345.70,293.38 346.20,294.98 346.70,296.74 347.20,298.49 347.70,300.09 348.20,301.72 348.70,303.45 349.20,305.30 349.70,307.32 350.20,309.52 350.70,311.96 351.20,314.83 351.70,318.27 352.20,322.13 352.70,326.24 353.20,330.45 353.70,334.59 354.20,338.53 354.70,342.51 355.20,346.58 355.70,350.66 356.20,354.68 356.70,358.54 357.20,362.18 357.70,365.60 358.20,369.09 358.70,372.56 359.20,375.84 359.70,378.80 360.20,381.29 360.70,383.16 361.20,384.60 361.70,385.96 362.20,387.20 362.70,388.25 363.20,389.04 363.70,389.50 364.20,389.58 364.70,389.25 365.20,388.57 365.70,387.60 366.20,386.41 366.70,385.07 367.20,383.65 367.70,382.11 368.20,380.04 368.70,377.49 369.20,374.59 369.70,371.46 370.20,368.23 370.70,365.01 371.20,361.68 371.70,358.00 372.20,354.11 372.70,350.16 373.20,346.29 373.70,342.66 374.20,339.40 374.70,336.33 375.20,333.34 375.70,330.47 376.20,327.77 376.70,325.29 377.20,323.07 377.70,321.10 378.20,319.11 378.70,317.16 379.20,315.37 379.70,313.87 380.20,312.75 380.70,312.14 381.20,312.00 381.70,312.34 382.20,313.17 382.70,314.35 383.20,315.75 383.70,317.21 384.20,318.61 384.70,320.04 385.20,321.60 385.70,323.29 386.20,325.13 386.70,327.11 387.20,329.23 387.70,331.56 388.20,334.39 388.70,337.61 389.20,341.04 389.70,344.48 390.20,347.75 390.70,350.67 391.20,353.25 391.70,355.77 392.20,358.19 392.70,360.48 393.20,362.57 393.70,364.42 394.20,365.97 394.70,367.43 395.20,368.88 395.70,370.23 396.20,371.39 396.70,372.28 397.20,372.80 397.70,372.89 398.20,372.50 398.70,371.68 399.20,370.57 399.70,369.31 400.20,368.03 400.70,366.85 401.20,365.86 401.70,364.94 402.20,364.04 402.70,363.09 403.20,362.04 403.70,360.82 404.20,359.37 404.70,357.34 405.20,354.67 405.70,351.57 406.20,348.23 406.70,344.88 407.20,341.71 407.70,338.89 408.20,336.10 408.70,333.31 409.20,330.57 409.70,327.97 410.20,325.57 410.70,323.43 411.20,321.50 411.70,319.52 412.20,317.61 412.70,315.87 413.20,314.43 413.70,313.39 414.20,312.89 414.70,312.78 415.20,313.21 415.70,314.13 416.20,315.36 416.70,316.73 417.20,318.06 417.70,319.19 418.20,320.20 418.70,321.18 419.20,322.19 419.70,323.26 420.20,324.46 420.70,325.83 421.20,327.48 421.70,329.57 422.20,331.99 422.70,334.65 423.20,337.44 423.70,340.27 424.20,343.03 424.70,345.97 425.20,349.23 425.70,352.61 426.20,355.89 426.70,358.85 427.20,361.28 427.70,363.00 428.20,364.35 428.70,365.51 429.20,366.53 429.70,367.45 430.20,368.32 430.70,369.19 431.20,370.13 431.70,371.17 432.20,372.23 432.70,373.18 433.20,373.93 433.70,374.37 434.20,374.40 434.70,374.11 435.20,373.46 435.70,372.52 436.20,371.37 436.70,370.09 437.20,368.74 437.70,367.40 438.20,365.86 438.70,364.08 439.20,362.10 439.70,359.96 440.20,357.72 440.70,355.40 441.20,352.97 441.70,350.20 442.20,347.19 442.70,344.09 443.20,341.02 443.70,338.13 444.20,335.55 444.70,333.21 445.20,330.93 445.70,328.75 446.20,326.70 446.70,324.82 447.20,323.16 447.70,321.75 448.20,320.37 448.70,319.00 449.20,317.73 449.70,316.66 450.20,315.86 450.70,315.44 451.20,315.48 451.70,315.99 452.20,316.86 452.70,317.99 453.20,319.29 453.70,320.65 454.20,321.98 454.70,323.29 455.20,324.75 455.70,326.34 456.20,328.05 456.70,329.88 457.20,331.82 457.70,333.87 458.20,336.24 458.70,338.92 459.20,341.78 459.70,344.68 460.20,347.51 460.70,350.12 461.20,352.45 461.70,354.72 462.20,356.93 462.70,359.05 463.20,361.03 463.70,362.83 464.20,364.41 464.70,365.85 465.20,367.32 465.70,368.73 466.20,369.98 466.70,370.99 467.20,371.66 467.70,371.92 468.20,371.81 468.70,371.26 469.20,370.39 469.70,369.31 470.20,368.12 470.70,366.94 471.20,365.86 471.70,364.77 472.20,363.64 472.70,362.41 473.20,361.05 473.70,359.53 474.20,357.82 474.70,355.21 475.20,351.53 475.70,348.61 476.20,348.03 476.70,348.36 477.20,348.96 477.70,349.76 478.20,350.66 478.70,351.59 479.20,352.44 479.70,353.13 480.20,353.58 480.70,353.67 481.20,352.59 481.70,350.36 482.20,347.47 482.70,344.44 483.20,341.75 483.70,339.90 484.20,338.62 484.70,337.45 485.20,336.63 485.70,336.40 486.20,336.52 486.70,336.73 487.20,336.96 487.70,337.15 488.20,337.19 488.70,336.78 489.20,336.01 489.70,335.16 490.20,334.50 490.70,334.31 491.20,334.55 491.70,335.08 492.20,335.81 492.70,336.67 493.20,337.59 493.70,338.85 494.20,340.48 494.70,342.33 495.20,344.38 495.70,346.95 496.20,349.82 496.70,352.71 497.20,355.33 497.70,357.40 498.20,359.03 498.70,360.52 499.20,361.88 499.70,363.12 500.20,364.23 500.70,365.23 501.20,366.10 501.70,366.94 502.20,367.79 502.70,368.56 503.20,369.20 503.70,369.64 504.20,369.80 504.70,369.69 505.20,369.38 505.70,368.86 506.20,368.13 506.70,367.21 507.20,366.11 507.70,364.82 508.20,363.37 508.70,361.76 509.20,360.01 509.70,358.14 510.20,356.16 510.70,354.08 511.20,351.94 511.70,349.74 512.20,347.50 512.70,345.25 513.20,343.00 513.70,340.78 514.20,338.60 514.70,336.48 515.20,334.44 515.70,332.50 516.20,330.67 516.70,328.98 517.20,327.43 517.70,326.04 518.20,324.83 518.70,323.79 519.20,322.95 519.70,322.31 520.20,321.87 520.70,321.64 521.20,321.62 521.70,321.80 522.20,322.21 522.70,322.82 523.20,323.63 523.70,324.63 524.20,325.82 524.70,327.19 525.20,328.72 525.70,330.41 526.20,332.23 526.70,334.17 527.20,336.23 527.70,338.37 528.20,340.58 528.70,342.84 529.20,345.13 529.70,347.44 530.20,349.75 530.70,352.02 531.20,354.26 531.70,356.43 532.20,358.52 532.70,360.51 533.20,362.38 533.70,364.12 534.20,365.72 534.70,367.15 535.20,368.41 535.70,369.49 536.20,370.38 536.70,371.07 537.20,371.56 537.70,371.83 538.20,371.89 538.70,371.75 539.20,371.39 539.70,370.82 540.20,370.05 540.70,369.08 541.20,367.92 541.70,366.58 542.20,365.07 542.70,363.40 543.20,361.60 543.70,359.66 544.20,357.61 544.70,355.46 545.20,353.24 545.70,350.95 546.20,348.62 546.70,346.27 547.20,343.92 547.70,341.58 548.20,339.27 548.70,337.02 549.20,334.84 549.70,332.75 550.20,330.77 550.70,328.90 551.20,327.18 551.70,325.61 552.20,324.20 552.70,322.97 553.20,321.92 553.70,321.07 554.20,320.42 554.70,319.97 555.20,319.74 555.70,319.72 556.20,319.90 556.70,320.31 557.20,320.92 557.70,321.73 558.20,322.74 558.70,323.93 559.20,325.31 559.70,326.85 560.20,328.55 560.70,330.39 561.20,332.35 561.70,334.44 562.20,336.61 562.70,338.87 563.20,341.19 563.70,343.55 564.20,345.93 564.70,348.32 565.20,350.70 565.70,353.05 566.20,355.34 566.70,357.57 567.20,359.71 567.70,361.75 568.20,363.67 568.70,365.45 569.20,367.09 569.70,368.56 570.20,369.87 570.70,370.99 571.20,371.92 571.70,372.65 572.20,373.18 572.70,373.49 573.20,373.60 573.70,373.49 574.20,373.16 574.70,372.61 575.20,371.86 575.70,370.89 576.20,369.72 576.70,368.37 577.20,366.84 577.70,365.13 578.20,363.28 578.70,361.28 579.20,359.16 579.70,356.93 580.20,354.61 580.70,352.22 581.20,349.78 581.70,347.30 582.20,344.80 582.70,342.31 583.20,339.84 583.70,337.41 584.20,335.05 584.70,332.76 585.20,330.58 585.70,328.50 586.20,326.56 586.70,324.77 587.20,323.13 587.70,321.67 588.20,320.39 588.70,319.30 589.20,318.42 589.70,317.74 590.20,317.28 590.70,317.04 591.20,317.03 591.70,317.25 592.20,317.75 592.70,318.50 593.20,319.49 593.70,320.73 594.20,322.19 594.70,323.88 595.20,325.76 595.70,327.82 596.20,330.06 596.70,332.44 597.20,334.94 597.70,337.55 598.20,340.25 598.70,343.00 599.20,345.78 599.70,348.58 600.20,351.36 600.70,354.10 601.20,356.78 601.70,359.37 602.20,361.85 602.70,364.20 603.20,366.40 603.70,368.43 604.20,370.28 604.70,371.91 605.20,373.33 605.70,374.52 606.20,375.47 606.70,376.17 607.20,376.61 607.70,376.79 608.20,376.72 608.70,376.41 609.20,375.86 609.70,375.07 610.20,374.06 610.70,372.83 611.20,371.39 611.70,369.75 612.20,367.93 612.70,365.93 613.20,363.78 613.70,361.48 614.20,359.07 614.70,356.55 615.20,353.95 615.70,351.28 616.20,348.58 616.70,345.85 617.20,343.12 617.70,340.42 618.20,337.75 618.70,335.15 619.20,332.63 619.70,330.22 620.20,327.92 620.70,325.77 621.20,323.77 621.70,321.95 622.20,320.31 622.70,318.87 623.20,317.63 623.70,316.62 624.20,315.84 624.70,315.29 625.20,314.97 625.70,314.91 626.20,315.08 626.70,315.52 627.20,316.22 627.70,317.16 628.20,318.34 628.70,319.75 629.20,321.38 629.70,323.22 630.20,325.25 630.70,327.45 631.20,329.82 631.70,332.31 632.20,334.93 632.70,337.64 633.20,340.43 633.70,343.26 634.20,346.13 634.70,348.99 635.20,351.84 635.70,354.65 636.20,357.40 636.70,360.05 637.20,362.60 637.70,365.02 638.20,367.29 638.70,369.39 639.20,371.30 639.70,373.02 640.20,374.52 640.70,375.80 641.20,376.83 641.70,377.63 642.20,378.17 642.70,378.45 643.20,378.47 643.70,378.27 644.20,377.80 644.70,377.10 645.20,376.16 645.70,374.99 646.20,373.61 646.70,372.02 647.20,370.23 647.70,368.25 648.20,366.11 648.70,363.82 649.20,361.39 649.70,358.84 650.20,356.20 650.70,353.47 651.20,350.69 651.70,347.87 652.20,345.03 652.70,342.20 653.20,339.39 653.70,336.63 654.20,333.93 654.70,331.33 655.20,328.82 655.70,326.45 656.20,324.21 656.70,322.14 657.20,320.24 657.70,318.52 658.20,317.01 658.70,315.72 659.20,314.64 659.70,313.80 660.20,313.19 660.70,312.83 661.20,312.70 661.70,312.84 662.20,313.26 662.70,313.95 663.20,314.91 663.70,316.14 664.20,317.61 664.70,319.33 665.20,321.27 665.70,323.42 666.20,325.76 666.70,328.27 667.20,330.94 667.70,333.73 668.20,336.63 668.70,339.61 669.20,342.65 669.70,345.73 670.20,348.81 670.70,351.87 671.20,354.89 671.70,357.84 672.20,360.70 672.70,363.45 673.20,366.05 673.70,368.50 674.20,370.77 674.70,372.83 675.20,374.68 675.70,376.31 676.20,377.68 676.70,378.80 677.20,379.66 677.70,380.24 678.20,380.55 678.70,380.57 679.20,380.33 679.70,379.79 680.20,378.97 680.70,377.88 681.20,376.53 681.70,374.93 682.20,373.10 682.70,371.03 683.00,369.69" fill="none" stroke="#111" stroke-width="1.6" stroke-linejoin="round"/></g>
<g clip-path="url(#c2m)" fill="#fff" stroke="#e5302f" stroke-width="1.45"><circle cx="60.20" cy="345.30" r="2.05"/><circle cx="63.54" cy="345.30" r="2.05"/><circle cx="66.88" cy="345.30" r="2.05"/><circle cx="70.22" cy="345.30" r="2.05"/><circle cx="73.56" cy="345.30" r="2.05"/><circle cx="76.90" cy="345.30" r="2.05"/><circle cx="80.24" cy="345.30" r="2.05"/><circle cx="83.58" cy="345.30" r="2.05"/><circle cx="86.92" cy="345.30" r="2.05"/><circle cx="90.25" cy="345.30" r="2.05"/><circle cx="93.59" cy="345.30" r="2.05"/><circle cx="96.93" cy="345.30" r="2.05"/><circle cx="100.27" cy="345.30" r="2.05"/><circle cx="103.61" cy="345.30" r="2.05"/><circle cx="106.95" cy="345.30" r="2.05"/><circle cx="110.29" cy="345.30" r="2.05"/><circle cx="113.63" cy="345.30" r="2.05"/><circle cx="116.97" cy="345.30" r="2.05"/><circle cx="120.31" cy="345.30" r="2.05"/><circle cx="123.65" cy="345.30" r="2.05"/><circle cx="126.99" cy="345.30" r="2.05"/><circle cx="130.33" cy="345.30" r="2.05"/><circle cx="133.67" cy="345.30" r="2.05"/><circle cx="137.01" cy="345.30" r="2.05"/><circle cx="140.35" cy="345.30" r="2.05"/><circle cx="143.69" cy="345.30" r="2.05"/><circle cx="147.02" cy="345.30" r="2.05"/><circle cx="150.36" cy="345.30" r="2.05"/><circle cx="153.70" cy="345.30" r="2.05"/><circle cx="157.04" cy="345.30" r="2.05"/><circle cx="160.38" cy="345.30" r="2.05"/><circle cx="163.72" cy="345.30" r="2.05"/><circle cx="167.06" cy="345.30" r="2.05"/><circle cx="170.40" cy="345.30" r="2.05"/><circle cx="173.74" cy="345.30" r="2.05"/><circle cx="177.08" cy="345.30" r="2.05"/><circle cx="180.42" cy="345.30" r="2.05"/><circle cx="183.76" cy="345.30" r="2.05"/><circle cx="187.10" cy="345.30" r="2.05"/><circle cx="190.44" cy="345.30" r="2.05"/><circle cx="193.78" cy="345.30" r="2.05"/><circle cx="197.12" cy="345.30" r="2.05"/><circle cx="200.45" cy="345.30" r="2.05"/><circle cx="203.79" cy="345.30" r="2.05"/><circle cx="207.13" cy="345.30" r="2.05"/><circle cx="210.47" cy="345.30" r="2.05"/><circle cx="213.81" cy="345.30" r="2.05"/><circle cx="217.15" cy="345.30" r="2.05"/><circle cx="220.49" cy="345.30" r="2.05"/><circle cx="223.83" cy="345.30" r="2.05"/><circle cx="227.17" cy="345.30" r="2.05"/><circle cx="230.51" cy="345.30" r="2.05"/><circle cx="233.85" cy="345.30" r="2.05"/><circle cx="237.19" cy="345.30" r="2.05"/><circle cx="240.53" cy="345.30" r="2.05"/><circle cx="243.87" cy="345.30" r="2.05"/><circle cx="247.21" cy="345.30" r="2.05"/><circle cx="250.55" cy="345.30" r="2.05"/><circle cx="253.89" cy="345.30" r="2.05"/><circle cx="257.22" cy="345.30" r="2.05"/><circle cx="260.56" cy="314.60" r="2.05"/><circle cx="263.90" cy="307.90" r="2.05"/><circle cx="267.24" cy="288.50" r="2.05"/><circle cx="270.58" cy="277.50" r="2.05"/><circle cx="273.92" cy="290.10" r="2.05"/><circle cx="277.26" cy="285.00" r="2.05"/><circle cx="280.60" cy="314.90" r="2.05"/><circle cx="283.94" cy="345.20" r="2.05"/><circle cx="287.28" cy="330.40" r="2.05"/><circle cx="290.62" cy="368.60" r="2.05"/><circle cx="293.96" cy="394.60" r="2.05"/><circle cx="297.30" cy="402.40" r="2.05"/><circle cx="300.64" cy="386.60" r="2.05"/><circle cx="303.98" cy="365.80" r="2.05"/><circle cx="307.32" cy="345.20" r="2.05"/><circle cx="310.65" cy="328.20" r="2.05"/><circle cx="313.99" cy="334.10" r="2.05"/><circle cx="317.33" cy="345.20" r="2.05"/><circle cx="320.67" cy="364.60" r="2.05"/><circle cx="324.01" cy="379.10" r="2.05"/><circle cx="327.35" cy="384.10" r="2.05"/><circle cx="330.69" cy="374.10" r="2.05"/><circle cx="334.03" cy="354.50" r="2.05"/><circle cx="337.37" cy="325.10" r="2.05"/><circle cx="340.71" cy="304.60" r="2.05"/><circle cx="344.05" cy="291.60" r="2.05"/><circle cx="347.39" cy="299.10" r="2.05"/><circle cx="350.73" cy="312.10" r="2.05"/><circle cx="354.07" cy="337.50" r="2.05"/><circle cx="357.41" cy="363.60" r="2.05"/><circle cx="360.75" cy="383.30" r="2.05"/><circle cx="364.09" cy="389.60" r="2.05"/><circle cx="367.42" cy="383.00" r="2.05"/><circle cx="370.76" cy="364.60" r="2.05"/><circle cx="374.10" cy="340.00" r="2.05"/><circle cx="377.44" cy="322.10" r="2.05"/><circle cx="380.78" cy="312.10" r="2.05"/><circle cx="384.12" cy="318.40" r="2.05"/><circle cx="387.46" cy="330.40" r="2.05"/><circle cx="390.80" cy="351.20" r="2.05"/><circle cx="394.14" cy="365.80" r="2.05"/><circle cx="397.48" cy="372.90" r="2.05"/><circle cx="400.82" cy="366.60" r="2.05"/><circle cx="404.16" cy="359.50" r="2.05"/><circle cx="407.50" cy="340.00" r="2.05"/><circle cx="410.84" cy="322.90" r="2.05"/><circle cx="414.18" cy="312.90" r="2.05"/><circle cx="417.52" cy="318.80" r="2.05"/><circle cx="420.86" cy="326.30" r="2.05"/><circle cx="424.19" cy="343.00" r="2.05"/><circle cx="427.53" cy="362.50" r="2.05"/><circle cx="430.87" cy="369.50" r="2.05"/><circle cx="434.21" cy="374.40" r="2.05"/><circle cx="437.55" cy="367.80" r="2.05"/><circle cx="440.89" cy="354.50" r="2.05"/><circle cx="444.23" cy="335.40" r="2.05"/><circle cx="447.57" cy="322.10" r="2.05"/><circle cx="450.91" cy="315.40" r="2.05"/><circle cx="454.25" cy="322.10" r="2.05"/><circle cx="457.59" cy="333.40" r="2.05"/><circle cx="460.93" cy="351.20" r="2.05"/><circle cx="464.27" cy="364.60" r="2.05"/><circle cx="467.61" cy="371.90" r="2.05"/><circle cx="470.95" cy="366.40" r="2.05"/><circle cx="474.29" cy="357.50" r="2.05"/><circle cx="477.62" cy="343.10" r="2.05"/><circle cx="480.96" cy="328.30" r="2.05"/><circle cx="484.30" cy="330.30" r="2.05"/><circle cx="487.64" cy="323.80" r="2.05"/><circle cx="490.98" cy="331.30" r="2.05"/><circle cx="494.32" cy="343.10" r="2.05"/><circle cx="497.66" cy="357.50" r="2.05"/><circle cx="501.00" cy="366.70" r="2.05"/><circle cx="504.34" cy="370.00" r="2.05"/><circle cx="507.68" cy="361.50" r="2.05"/><circle cx="511.02" cy="351.60" r="2.05"/><circle cx="514.36" cy="336.60" r="2.05"/><circle cx="517.70" cy="325.80" r="2.05"/><circle cx="521.04" cy="321.90" r="2.05"/><circle cx="524.38" cy="328.30" r="2.05"/><circle cx="527.72" cy="337.80" r="2.05"/><circle cx="531.06" cy="350.40" r="2.05"/><circle cx="534.39" cy="360.70" r="2.05"/><circle cx="537.73" cy="367.00" r="2.05"/><circle cx="541.07" cy="363.40" r="2.05"/><circle cx="544.41" cy="354.30" r="2.05"/><circle cx="547.75" cy="343.10" r="2.05"/><circle cx="551.09" cy="331.10" r="2.05"/><circle cx="554.43" cy="324.90" r="2.05"/><circle cx="557.77" cy="326.30" r="2.05"/><circle cx="561.11" cy="334.40" r="2.05"/><circle cx="564.45" cy="344.10" r="2.05"/><circle cx="567.79" cy="354.30" r="2.05"/><circle cx="571.13" cy="362.40" r="2.05"/><circle cx="574.47" cy="363.50" r="2.05"/><circle cx="577.81" cy="356.70" r="2.05"/><circle cx="581.15" cy="348.10" r="2.05"/><circle cx="584.49" cy="337.60" r="2.05"/><circle cx="587.83" cy="330.40" r="2.05"/><circle cx="591.16" cy="326.00" r="2.05"/><circle cx="594.50" cy="331.20" r="2.05"/><circle cx="597.84" cy="340.90" r="2.05"/><circle cx="601.18" cy="349.20" r="2.05"/><circle cx="604.52" cy="358.40" r="2.05"/><circle cx="607.86" cy="362.50" r="2.05"/><circle cx="611.20" cy="359.60" r="2.05"/><circle cx="614.54" cy="351.60" r="2.05"/><circle cx="617.88" cy="343.00" r="2.05"/><circle cx="621.22" cy="334.10" r="2.05"/><circle cx="624.56" cy="328.40" r="2.05"/><circle cx="627.90" cy="330.00" r="2.05"/><circle cx="631.24" cy="336.50" r="2.05"/><circle cx="634.58" cy="345.10" r="2.05"/><circle cx="637.92" cy="353.10" r="2.05"/><circle cx="641.26" cy="359.70" r="2.05"/><circle cx="644.60" cy="360.90" r="2.05"/><circle cx="647.93" cy="353.20" r="2.05"/><circle cx="651.27" cy="347.40" r="2.05"/><circle cx="654.61" cy="339.30" r="2.05"/><circle cx="657.95" cy="332.50" r="2.05"/><circle cx="661.29" cy="330.00" r="2.05"/><circle cx="664.63" cy="334.10" r="2.05"/><circle cx="667.97" cy="342.20" r="2.05"/><circle cx="671.31" cy="348.20" r="2.05"/><circle cx="674.65" cy="355.20" r="2.05"/><circle cx="677.99" cy="358.40" r="2.05"/><circle cx="681.33" cy="356.80" r="2.05"/></g>
<rect x="547.30" y="13.70" width="124.50" height="39.70" fill="#fff" stroke="#7a7a7a" stroke-width="1"/><line x1="549.10" y1="23.90" x2="584.70" y2="23.90" stroke="#222" stroke-width="1.5"/><circle cx="566.50" cy="42.80" r="2.2" fill="none" stroke="#e5302f" stroke-width="1.35"/><text transform="translate(589.60,28.80) scale(1,1.06)">TD-ADRC</text><text transform="translate(589.60,48.00) scale(1,1.06)">TVD-ADRC</text>
<rect x="550.80" y="254.60" width="124.60" height="39.80" fill="#fff" stroke="#7a7a7a" stroke-width="1"/><line x1="553.30" y1="264.80" x2="588.20" y2="264.80" stroke="#222" stroke-width="1.5"/><circle cx="570.10" cy="284.00" r="2.2" fill="none" stroke="#e5302f" stroke-width="1.35"/><text transform="translate(592.60,269.80) scale(1,1.06)">TD-ADRC</text><text transform="translate(592.60,289.00) scale(1,1.06)">TVD-ADRC</text>
<line x1="57.20" y1="37.98" x2="64.70" y2="37.98" class="t"/><line x1="57.20" y1="69.57" x2="64.70" y2="69.57" class="t"/><line x1="57.20" y1="101.15" x2="64.70" y2="101.15" class="t"/><line x1="57.20" y1="132.73" x2="64.70" y2="132.73" class="t"/><line x1="57.20" y1="164.32" x2="64.70" y2="164.32" class="t"/><line x1="140.64" y1="195.90" x2="140.64" y2="188.40" class="t"/><line x1="224.08" y1="195.90" x2="224.08" y2="188.40" class="t"/><line x1="307.52" y1="195.90" x2="307.52" y2="188.40" class="t"/><line x1="390.96" y1="195.90" x2="390.96" y2="188.40" class="t"/><line x1="474.40" y1="195.90" x2="474.40" y2="188.40" class="t"/><line x1="557.84" y1="195.90" x2="557.84" y2="188.40" class="t"/><line x1="641.28" y1="195.90" x2="641.28" y2="188.40" class="t"/><rect x="57.20" y="6.40" width="625.80" height="189.50" class="box"/>
<line x1="57.20" y1="281.70" x2="64.70" y2="281.70" class="t"/><line x1="57.20" y1="313.45" x2="64.70" y2="313.45" class="t"/><line x1="57.20" y1="345.40" x2="64.70" y2="345.40" class="t"/><line x1="57.20" y1="376.55" x2="64.70" y2="376.55" class="t"/><line x1="57.20" y1="408.50" x2="64.70" y2="408.50" class="t"/><line x1="140.64" y1="439.60" x2="140.64" y2="432.10" class="t"/><line x1="224.08" y1="439.60" x2="224.08" y2="432.10" class="t"/><line x1="307.52" y1="439.60" x2="307.52" y2="432.10" class="t"/><line x1="390.96" y1="439.60" x2="390.96" y2="432.10" class="t"/><line x1="474.40" y1="439.60" x2="474.40" y2="432.10" class="t"/><line x1="557.84" y1="439.60" x2="557.84" y2="432.10" class="t"/><line x1="641.28" y1="439.60" x2="641.28" y2="432.10" class="t"/><rect x="57.20" y="250.10" width="625.80" height="189.50" class="box"/>
<text transform="translate(51.6,11.40) scale(1,1.06)" text-anchor="end">3</text>
<text transform="translate(51.6,42.98) scale(1,1.06)" text-anchor="end">2</text>
<text transform="translate(51.6,74.57) scale(1,1.06)" text-anchor="end">1</text>
<text transform="translate(51.6,106.15) scale(1,1.06)" text-anchor="end">0</text>
<text transform="translate(51.6,137.73) scale(1,1.06)" text-anchor="end"><tspan style="fill:#777;stroke:#777">&#8722;</tspan>1</text>
<text transform="translate(51.6,169.32) scale(1,1.06)" text-anchor="end"><tspan style="fill:#777;stroke:#777">&#8722;</tspan>2</text>
<text transform="translate(51.6,200.90) scale(1,1.06)" text-anchor="end"><tspan style="fill:#777;stroke:#777">&#8722;</tspan>3</text>
<text transform="translate(57.20,212.50) scale(1,1.06)" text-anchor="middle">0</text>
<text transform="translate(140.64,212.50) scale(1,1.06)" text-anchor="middle">200</text>
<text transform="translate(224.08,212.50) scale(1,1.06)" text-anchor="middle">400</text>
<text transform="translate(307.52,212.50) scale(1,1.06)" text-anchor="middle">600</text>
<text transform="translate(390.96,212.50) scale(1,1.06)" text-anchor="middle">800</text>
<text transform="translate(474.40,212.50) scale(1,1.06)" text-anchor="middle">1000</text>
<text transform="translate(557.84,212.50) scale(1,1.06)" text-anchor="middle">1200</text>
<text transform="translate(641.28,212.50) scale(1,1.06)" text-anchor="middle">1400</text>
<text transform="translate(51.6,255.10) scale(1,1.06)" text-anchor="end">0.03</text>
<text transform="translate(51.6,286.70) scale(1,1.06)" text-anchor="end">0.02</text>
<text transform="translate(51.6,318.45) scale(1,1.06)" text-anchor="end">0.01</text>
<text transform="translate(51.6,350.40) scale(1,1.06)" text-anchor="end">0</text>
<text transform="translate(51.6,381.55) scale(1,1.06)" text-anchor="end"><tspan style="fill:#777;stroke:#777">&#8722;</tspan>0.01</text>
<text transform="translate(51.6,413.50) scale(1,1.06)" text-anchor="end"><tspan style="fill:#777;stroke:#777">&#8722;</tspan>0.02</text>
<text transform="translate(51.6,444.60) scale(1,1.06)" text-anchor="end"><tspan style="fill:#777;stroke:#777">&#8722;</tspan>0.03</text>
<text transform="translate(57.20,455.90) scale(1,1.06)" text-anchor="middle">0</text>
<text transform="translate(140.64,455.90) scale(1,1.06)" text-anchor="middle">200</text>
<text transform="translate(224.08,455.90) scale(1,1.06)" text-anchor="middle">400</text>
<text transform="translate(307.52,455.90) scale(1,1.06)" text-anchor="middle">600</text>
<text transform="translate(390.96,455.90) scale(1,1.06)" text-anchor="middle">800</text>
<text transform="translate(474.40,455.90) scale(1,1.06)" text-anchor="middle">1000</text>
<text transform="translate(557.84,455.90) scale(1,1.06)" text-anchor="middle">1200</text>
<text transform="translate(641.28,455.90) scale(1,1.06)" text-anchor="middle">1400</text>
<text transform="translate(368.80,233.4) scale(1,1.06)" text-anchor="middle">Dimensionless time step</text>
<text transform="translate(368.80,475.9) scale(1,1.06)" text-anchor="middle">Dimensionless time step</text>
<text transform="translate(11.9,101.0) rotate(-90) scale(1,1.06)" text-anchor="middle">Acceleration signal (m/s<tspan font-size="8px" dy="-5.4">2</tspan><tspan dy="5.4">)</tspan></text>
<text transform="translate(11.4,343.6) rotate(-90) scale(1,1.06)" text-anchor="middle">Control command <tspan font-style="italic">&#946;</tspan><tspan font-style="italic" font-size="10.5px" dy="3">c</tspan><tspan dy="-3"> (rad)</tspan></text>
</svg>
</body></html>
